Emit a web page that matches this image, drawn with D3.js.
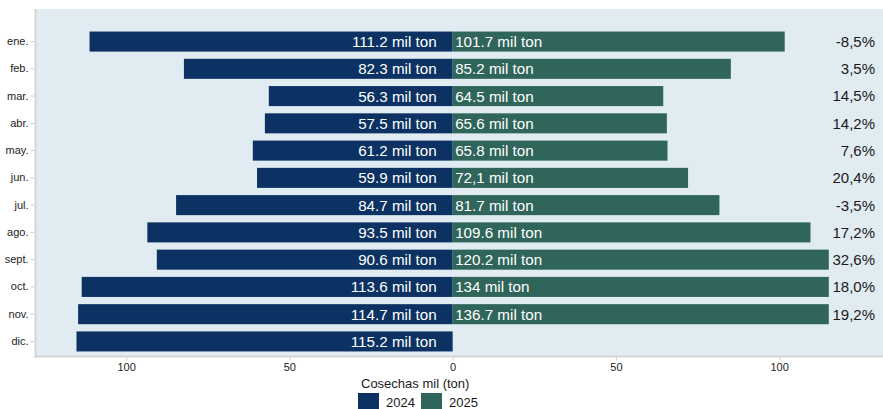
<!DOCTYPE html>
<html>
<head>
<meta charset="utf-8">
<script src="https://cdn.jsdelivr.net/npm/d3@7/dist/d3.min.js"></script>
<style>
  html, body { margin: 0; padding: 0; background: #fff; }
  svg { display: block; font-family: "Liberation Sans", Arial, Helvetica, sans-serif; }
</style>
</head>
<body>
<svg id="chart" width="883" height="409"></svg>
<script>
// Monthly harvests (thousand tons), 2024 vs 2025
const months = ["ene.", "feb.", "mar.", "abr.", "may.", "jun.", "jul.", "ago.", "sept.", "oct.", "nov.", "dic."];
const values2024 = [111.2, 82.3, 56.3, 57.5, 61.2, 59.9, 84.7, 93.5, 90.6, 113.6, 114.7, 115.2];
const values2025 = [101.7, 85.2, 64.5, 65.6, 65.8, 72.1, 81.7, 109.6, 120.2, 134, 136.7, null];
const labels2024 = ["111.2 mil ton", "82.3 mil ton", "56.3 mil ton", "57.5 mil ton", "61.2 mil ton", "59.9 mil ton",
                    "84.7 mil ton", "93.5 mil ton", "90.6 mil ton", "113.6 mil ton", "114.7 mil ton", "115.2 mil ton"];
const labels2025 = ["101.7 mil ton", "85.2 mil ton", "64.5 mil ton", "65.6 mil ton", "65.8 mil ton", "72,1 mil ton",
                    "81.7 mil ton", "109.6 mil ton", "120.2 mil ton", "134 mil ton", "136.7 mil ton", ""];
const changeLabels = ["-8,5%", "3,5%", "14,5%", "14,2%", "7,6%", "20,4%", "-3,5%", "17,2%", "32,6%", "18,0%", "19,2%", ""];
const xTicks = [-100, -50, 0, 50, 100];
const seriesNames = ["2024", "2025"];
const colors = { "2024": "#0b3262", "2025": "#2f655a" };

const rows = months.map((m, i) => ({
  month: m, v24: values2024[i], v25: values2025[i],
  l24: labels2024[i], l25: labels2025[i], pct: changeLabels[i]
}));

const svg = d3.select("#chart");
const panel = { left: 36, right: 883, top: 9, bottom: 356 };

// Mirrored value axis: 2024 to the left of zero, 2025 to the right
const x = d3.scaleLinear().domain([-127.6, 131.8]).range([panel.left, panel.right]);
const y = d3.scaleBand().domain(months).range([28, 355]).paddingInner(0.265).paddingOuter(0.13);
const barLimit = d3.max(values2024);   // upper limit of the 2025 side

// panel background and border
svg.append("rect")
  .attr("x", panel.left).attr("y", panel.top)
  .attr("width", panel.right - panel.left).attr("height", panel.bottom - panel.top)
  .attr("fill", "#e1ebf2");
svg.append("line")
  .attr("x1", panel.left - 0.5).attr("x2", panel.left - 0.5)
  .attr("y1", panel.top).attr("y2", panel.bottom + 2)
  .attr("stroke", "#d6d6d6").attr("stroke-width", 2);
svg.append("line")
  .attr("x1", panel.left - 1.5).attr("x2", panel.right)
  .attr("y1", panel.bottom + 0.5).attr("y2", panel.bottom + 0.5)
  .attr("stroke", "#d6d6d6").attr("stroke-width", 2);

svg.append("clipPath").attr("id", "clip-right")
  .append("rect")
  .attr("x", x(-200)).attr("y", 0)
  .attr("width", x(barLimit) - x(-200)).attr("height", 409);

const bars = svg.append("g");
bars.selectAll("rect.b24").data(rows).join("rect")
  .attr("class", "b24")
  .attr("x", d => x(-d.v24)).attr("width", d => x(0) - x(-d.v24))
  .attr("y", d => y(d.month)).attr("height", y.bandwidth())
  .attr("fill", colors["2024"]);
bars.append("g").attr("clip-path", "url(#clip-right)")
  .selectAll("rect.b25").data(rows.filter(d => d.v25 != null)).join("rect")
  .attr("class", "b25")
  .attr("x", x(0)).attr("width", d => x(d.v25) - x(0))
  .attr("y", d => y(d.month)).attr("height", y.bandwidth())
  .attr("fill", colors["2025"]);

// value labels inside the bars
const lab = svg.append("g").attr("fill", "#ffffff").attr("font-size", 15.2);
lab.selectAll("text.l24").data(rows).join("text")
  .attr("x", x(0) - 16).attr("y", d => y(d.month) + y.bandwidth() / 2)
  .attr("dy", "0.36em").attr("text-anchor", "end")
  .text(d => d.l24);
lab.selectAll("text.l25").data(rows).join("text")
  .attr("x", x(0) + 2.5).attr("y", d => y(d.month) + y.bandwidth() / 2)
  .attr("dy", "0.36em").attr("text-anchor", "start")
  .text(d => d.l25);

// year-on-year change at the right margin
svg.append("g").attr("fill", "#1a1a1a").attr("font-size", 15)
  .selectAll("text").data(rows).join("text")
  .attr("x", 875).attr("y", d => y(d.month) + y.bandwidth() / 2)
  .attr("dy", "0.36em").attr("text-anchor", "end")
  .text(d => d.pct);

// category axis
const yAxis = svg.append("g").attr("transform", `translate(${panel.left - 1.5},0)`)
  .call(d3.axisLeft(y).tickSize(4).tickPadding(2));
yAxis.select(".domain").remove();
yAxis.selectAll(".tick line").attr("stroke", "#d0d0d0");
yAxis.selectAll(".tick text").attr("font-size", 11).attr("fill", "#222")
  .attr("font-family", "'Liberation Sans', Arial, sans-serif");

// value axis, absolute values on both sides
const xAxis = svg.append("g").attr("transform", `translate(0,${panel.bottom + 1.5})`)
  .call(d3.axisBottom(x).tickValues(xTicks).tickSize(3).tickPadding(3).tickFormat(d => Math.abs(d)));
xAxis.select(".domain").remove();
xAxis.selectAll(".tick line").attr("stroke", "#d0d0d0");
xAxis.selectAll(".tick text").attr("font-size", 11).attr("fill", "#222")
  .attr("font-family", "'Liberation Sans', Arial, sans-serif");

// legend
svg.append("text").attr("x", 361).attr("y", 388).attr("font-size", 13).attr("fill", "#1a1a1a")
  .text("Cosechas mil (ton)");
const leg = svg.append("g").selectAll("g").data(seriesNames).join("g")
  .attr("transform", (d, i) => `translate(${358 + i * 63},393)`);
leg.append("rect").attr("width", 21).attr("height", 17).attr("fill", d => colors[d]);
leg.append("text").attr("x", 28).attr("y", 14).attr("font-size", 13).attr("fill", "#1a1a1a").text(d => d);
</script>
</body>
</html>
